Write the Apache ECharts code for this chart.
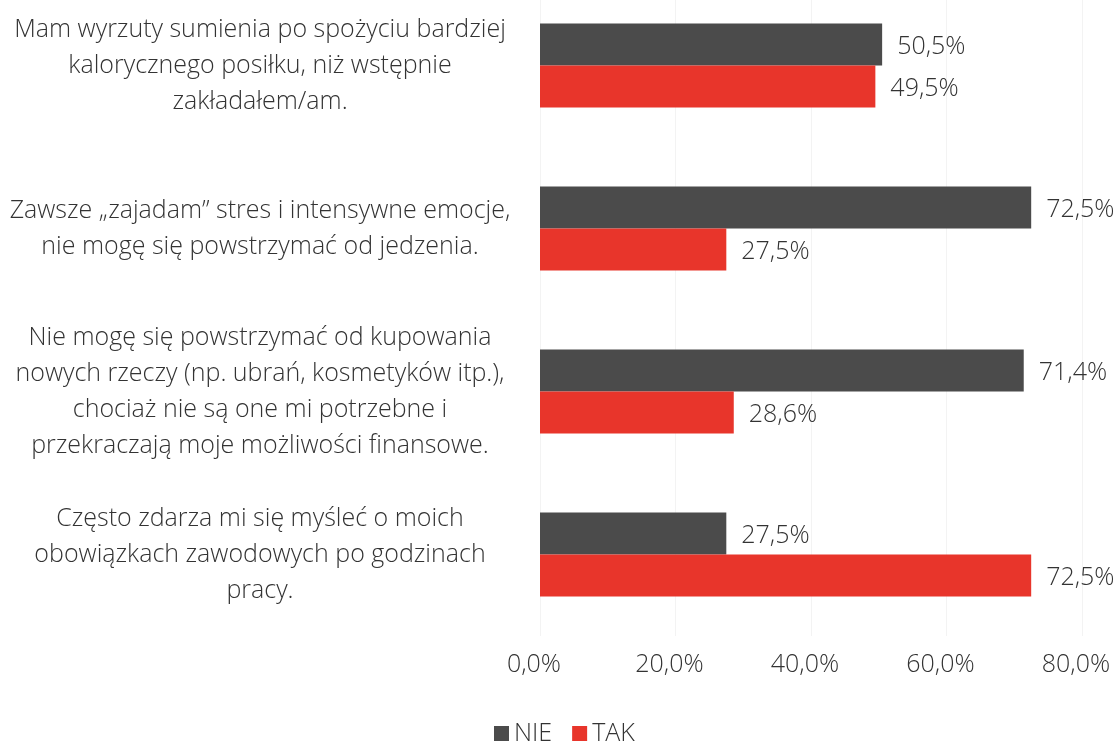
<!DOCTYPE html>
<html lang="pl">
<head>
    <meta charset="utf-8">
    <title>Wykres</title>
    <script src="https://cdn.jsdelivr.net/npm/echarts@6/dist/echarts.min.js"></script>
    <style>
        html, body { height: 100%; margin: 0; background: #fff; overflow: hidden; }
        /* wykres przesunięty o 20px w górę, żeby pierwsza kategoria zaczynała się wyżej */
        #main { position: absolute; left: 0; top: -20px; width: 1118px; height: 762px; }
    </style>
</head>
<body>
    <div id="main"></div>
    <script type="text/javascript">
        // kategorie (pytania)
        var categories = [
            'Mam wyrzuty sumienia po spożyciu bardziej\nkalorycznego posiłku, niż wstępnie\nzakładałem/am.',
            'Zawsze „zajadam” stres i intensywne emocje,\nnie mogę się powstrzymać od jedzenia.',
            'Nie mogę się powstrzymać od kupowania\nnowych rzeczy (np. ubrań, kosmetyków itp.),\nchociaż nie są one mi potrzebne i\nprzekraczają moje możliwości finansowe.',
            'Często zdarza mi się myśleć o moich\nobowiązkach zawodowych po godzinach\npracy.'
        ];
        var nieValues = [50.5, 72.5, 71.4, 27.5];
        var takValues = [49.5, 27.5, 28.6, 72.5];
        var xTicks = [0, 20, 40, 60, 80];

        var FONT = 'Open Sans';
        var TXT = '#333333';
        var FS = 25;

        function pct(v) {
            return v.toFixed(1).replace('.', ',') + '%';
        }

        function valueLabel() {
            return {
                show: true,
                position: 'right',
                distance: 15,
                offset: [0, 2],
                fontSize: FS,
                fontWeight: 300,
                color: TXT,
                formatter: function (p) { return pct(p.value); }
            };
        }

        var myChart = echarts.init(document.getElementById('main'));

        var option = {
            animation: false,
            textStyle: { fontFamily: FONT },
            grid: { left: 540, right: 36, top: 4, height: 652 },
            legend: {
                data: ['NIE', 'TAK'],
                left: 489,
                top: 736,
                icon: 'rect',
                itemWidth: 15,
                itemHeight: 15,
                itemGap: 20,
                textStyle: { fontSize: FS, color: TXT, fontWeight: 300 }
            },
            xAxis: {
                type: 'value',
                min: xTicks[0],
                max: xTicks[xTicks.length - 1],
                interval: 20,
                axisLine: { show: false },
                axisTick: { show: false },
                splitLine: { show: true, lineStyle: { color: '#f3f3f3' } },
                axisLabel: {
                    formatter: function (v) { return pct(v); },
                    fontSize: FS,
                    fontWeight: 300,
                    color: TXT,
                    margin: 16,
                    padding: [0, 12, 0, 0]
                }
            },
            yAxis: {
                type: 'category',
                inverse: true,
                data: categories,
                axisLine: { show: false },
                axisTick: { show: false },
                axisLabel: {
                    align: 'center',
                    margin: 280,
                    fontSize: FS,
                    lineHeight: 36,
                    fontWeight: 300,
                    color: TXT,
                    padding: [4, 0, 0, 0]
                }
            },
            series: [
                {
                    name: 'NIE',
                    type: 'bar',
                    data: nieValues,
                    barWidth: 42,
                    barGap: '0%',
                    itemStyle: { color: '#4b4b4b' },
                    label: valueLabel()
                },
                {
                    name: 'TAK',
                    type: 'bar',
                    data: takValues,
                    barWidth: 42,
                    barGap: '0%',
                    itemStyle: { color: '#e8352b' },
                    label: valueLabel()
                }
            ]
        };

        myChart.setOption(option);
        window.onresize = function () { myChart.resize(); };
    </script>
</body>
</html>
